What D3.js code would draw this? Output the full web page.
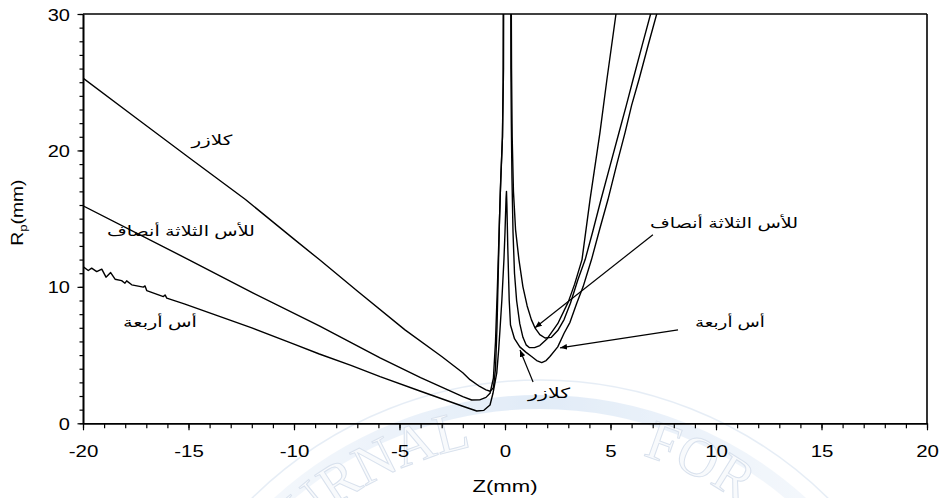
<!DOCTYPE html>
<html><head><meta charset="utf-8">
<script src="https://cdn.jsdelivr.net/npm/d3@7"></script>
<style>body{margin:0;background:#fff}svg{display:block}</style>
</head><body>
<svg id="chart" width="941" height="498"></svg>
<script>
// ---------- data ----------
const xTicks = [-20, -15, -10, -5, 0, 5, 10, 15, 20];
const yTicks = [0, 10, 20, 30];
const xMinorTicks = d3.range(-20, 21, 1);
const yMinorTicks = d3.range(0, 31, 1);
const xTitle = "Z(mm)";
const yTitleMain = "R", yTitleSub = "p", yTitleUnit = "(mm)";
const seriesNames = ["كلازر", "للأس الثلاثة أنصاف", "أس أربعة"];
const watermarkWords = ["JOURNAL", "FOR"];

// Klazar
const klazarZ = [-20,-17.5,-15,-12.3,-10,-8.8,-7,-4.74,-3,-2,-1.66,-1.2,-0.9,-0.7,-0.55,-0.45,-0.38,-0.32,-0.26,-0.2,-0.12,-0.09,-0.08,
  0.27,0.28,0.3,0.33,0.38,0.45,0.55,0.7,0.85,1.0,1.15,1.4,1.65,2.0,2.5,3.0,3.3,3.65,4.03,4.5,4.83,5.26,5.32];
const klazarR = [25.3,22.4,19.5,16.4,13.5,12.0,9.7,6.85,4.9,3.7,3.2,2.7,2.45,2.35,2.6,4,7,11,15,18,21,25,34,
  34,26,22,18,14,11,9,7.3,6.3,5.75,5.55,5.55,5.7,6.2,7.3,8.9,10.2,12,16.4,21.3,25.2,30,34];

// three-halves power
const halvesZ = [-20,-15,-12,-8.8,-5.92,-4,-3,-2,-1.58,-1.2,-0.9,-0.71,-0.55,-0.45,-0.36,-0.28,-0.22,-0.12,-0.07,-0.06,
  0.29,0.31,0.34,0.4,0.5,0.66,0.85,1.05,1.25,1.42,1.65,1.9,2.2,2.5,2.8,3.1,3.45,3.8,4.15,4.55,5.0,5.4,5.75,6.07,6.5,6.9,6.96];
const halvesR = [15.94,12.0,9.6,7.14,4.79,3.35,2.65,1.95,1.71,1.72,1.9,2.2,3.3,6,10,14,17,21,26,34,
  34,26,21,17,14.2,12,10,8.6,7.6,7.0,6.5,6.25,6.3,6.8,7.6,8.8,10.5,12,14,16.4,19,21.3,23.3,25.2,27.7,30,34];

// power four
const fourZ = [-20,-19.75,-19.59,-19.35,-19.11,-18.91,-18.69,-18.48,-18.17,-18.01,-17.93,-17.69,-17.14,-17.06,-16.98,-16.19,-16.11,-16.03,
  -15.2,-14,-12,-10,-8.8,-7.3,-5.92,-4,-3,-2,-1.34,-1.0,-0.71,-0.57,-0.39,-0.3,-0.24,-0.15,-0.05,0.0,0.05,0.07,0.09,0.13,0.2,0.26,0.45,
  0.7,1.0,1.26,1.5,1.74,1.95,2.13,2.5,2.8,3.08,3.4,3.7,4.1,4.5,4.88,5.3,5.69,6.0,6.35,6.8,7.19,7.26];
const fourR = [11.49,11.2,11.37,11.12,11.3,10.71,11.05,10.56,10.46,10.27,10.44,10.15,9.98,10.07,9.73,9.29,9.41,9.17,
  8.75,8.1,7.0,5.8,5.08,4.25,3.42,2.35,1.8,1.25,0.9,0.95,1.34,2.2,3.7,5.4,6.8,9,12,14,16.5,17,16,13,9,7.2,6.2,
  5.6,5.2,4.9,4.6,4.45,4.6,4.9,5.6,6.6,7.4,8.8,10.0,12,14.3,16.4,19,21.3,23.3,25.2,27.8,30,34];

// ---------- layout ----------
const svg = d3.select("#chart");
const W = 941, H = 498;
const x = d3.scaleLinear().domain([-20, 20]).range([83, 927]);
const y = d3.scaleLinear().domain([0, 30]).range([423.3, 14]);
const FONT = "'Liberation Sans', Arial, 'DejaVu Sans', sans-serif";

svg.append("rect").attr("width", W).attr("height", H).attr("fill", "#fff");

const defs = svg.append("defs");
defs.append("clipPath").attr("id", "plotclip")
  .append("rect").attr("x", x(-20)).attr("y", y(30)).attr("width", x(20) - x(-20)).attr("height", y(0) - y(30));
defs.append("marker").attr("id", "arrow").attr("viewBox", "0 0 10 10")
  .attr("refX", 10).attr("refY", 5).attr("markerWidth", 7).attr("markerHeight", 7)
  .attr("markerUnits", "userSpaceOnUse").attr("orient", "auto")
  .append("path").attr("d", "M0,1 L10,5 L0,9 z").attr("fill", "#000");

// ---------- faint journal watermark (background) ----------
const wcx = 540, wcy = 790;
const wm = svg.append("g").attr("opacity", 0.55);
const grad = defs.append("linearGradient").attr("id", "band").attr("x1", 0).attr("x2", 1);
grad.append("stop").attr("offset", "0%").attr("stop-color", "#d7e5f5").attr("stop-opacity", 0.2);
grad.append("stop").attr("offset", "50%").attr("stop-color", "#c9dcf2").attr("stop-opacity", 1);
grad.append("stop").attr("offset", "100%").attr("stop-color", "#d7e5f5").attr("stop-opacity", 0.2);
wm.append("circle").attr("cx", wcx).attr("cy", wcy).attr("r", 388)
  .attr("fill", "none").attr("stroke", "url(#band)").attr("stroke-width", 14);
wm.append("circle").attr("cx", wcx).attr("cy", wcy).attr("r", 410)
  .attr("fill", "none").attr("stroke", "#d3e0ef").attr("stroke-width", 1.5);
const rText = 350;
defs.append("path").attr("id", "wmarc")
  .attr("d", `M${wcx - rText},${wcy} A${rText},${rText} 0 0 1 ${wcx + rText},${wcy}`);
const startAng = [37, 107];
wm.selectAll("text.wm").data(watermarkWords).join("text").attr("class", "wm")
  .attr("font-family", "'Liberation Serif', 'DejaVu Serif', serif").attr("font-size", 56)
  .attr("fill", "#f4f7fb").attr("stroke", "#b9c9df").attr("stroke-width", 1)
  .append("textPath").attr("href", "#wmarc")
  .attr("startOffset", (d, i) => startAng[i] * Math.PI / 180 * rText)
  .text(d => d);

// ---------- curves ----------
const line = d3.line().x(d => x(d[0])).y(d => y(d[1]));
const series = [
  d3.zip(klazarZ, klazarR),
  d3.zip(halvesZ, halvesR),
  d3.zip(fourZ, fourR)
];
svg.append("g").attr("clip-path", "url(#plotclip)")
  .selectAll("path").data(series).join("path")
  .attr("d", line).attr("fill", "none").attr("stroke", "#000")
  .attr("stroke-width", 1.4).attr("stroke-linejoin", "round");

// ---------- axes ----------
function styleAxis(g) {
  g.selectAll(".domain").attr("stroke", "#000").attr("stroke-width", 1.6);
  g.selectAll(".tick line").attr("stroke", "#000").attr("stroke-width", 1.2);
}
svg.append("g").attr("transform", `translate(0,${y(0)})`)
  .call(d3.axisBottom(x).tickValues(xMinorTicks).tickSize(5).tickSizeOuter(0).tickFormat(""))
  .call(styleAxis);
const gx = svg.append("g").attr("transform", `translate(0,${y(0)})`)
  .call(d3.axisBottom(x).tickValues(xTicks).tickSize(7).tickSizeOuter(0).tickFormat(d3.format("d")))
  .call(styleAxis);
gx.selectAll(".tick text").attr("font-family", FONT).attr("font-size", 16).attr("fill", "#000")
  .attr("y", 0).attr("dy", 0)
  .attr("transform", "translate(0,34) scale(1.28,1)")
  .text(d => d < 0 ? "-" + Math.abs(d) : d);

svg.append("g").attr("transform", `translate(${x(-20)},0)`)
  .call(d3.axisLeft(y).tickValues(yMinorTicks).tickSize(3.5).tickSizeOuter(0).tickFormat(""))
  .call(styleAxis);
const gy = svg.append("g").attr("transform", `translate(${x(-20)},0)`)
  .call(d3.axisLeft(y).tickValues(yTicks).tickSize(5.5).tickSizeOuter(0).tickFormat(d3.format("d")))
  .call(styleAxis);
gy.selectAll(".tick text").attr("font-family", FONT).attr("font-size", 16).attr("fill", "#000")
  .attr("x", 0).attr("dy", 0).attr("y", 0)
  .attr("transform", "translate(-13,6) scale(1.25,1)");

// frame (top and right)
svg.append("line").attr("x1", x(-20)).attr("x2", x(20)).attr("y1", y(30)).attr("y2", y(30))
  .attr("stroke", "#000").attr("stroke-width", 1.6);
svg.append("line").attr("x1", x(20)).attr("x2", x(20)).attr("y1", y(30)).attr("y2", y(0))
  .attr("stroke", "#000").attr("stroke-width", 1.6);

// axis titles
svg.append("text").attr("font-family", FONT).attr("font-size", 16).attr("text-anchor", "middle")
  .attr("x", (x(-20) + x(20)) / 2).attr("y", 492)
  .attr("textLength", 65).attr("lengthAdjust", "spacingAndGlyphs").text(xTitle);

const yt = svg.append("text").attr("font-family", FONT).attr("font-size", 16).attr("text-anchor", "middle")
  .attr("transform", `translate(23,${(y(0) + y(30)) / 2 - 6}) rotate(-90)`)
  .attr("textLength", 66).attr("lengthAdjust", "spacingAndGlyphs");
yt.append("tspan").text(yTitleMain);
yt.append("tspan").attr("font-size", 11).attr("dy", 4).text(yTitleSub);
yt.append("tspan").attr("dy", -4).text(yTitleUnit);

// ---------- annotations (data coordinates) ----------
const labels = [
  { t: seriesNames[0], z: -13.89, r: 20.79, w: 41 },
  { t: seriesNames[1], z: -15.36, r: 14.1, w: 148 },
  { t: seriesNames[2], z: -16.35, r: 7.43, w: 74 },
  { t: seriesNames[1], z: 10.38, r: 14.7, w: 148 },
  { t: seriesNames[2], z: 10.66, r: 7.43, w: 70 },
  { t: seriesNames[0], z: 2.09, r: 2.22, w: 42 }
];
svg.append("g").selectAll("text").data(labels).join("text")
  .attr("font-family", FONT).attr("font-size", 14).attr("text-anchor", "middle")
  .attr("direction", "rtl")
  .attr("x", d => x(d.z)).attr("y", d => y(d.r) + 5)
  .attr("textLength", d => d.w).attr("lengthAdjust", "spacingAndGlyphs")
  .text(d => d.t);

const arrows = [
  { z1: 7.01, r1: 13.82, z2: 1.42, r2: 7.0 },
  { z1: 8.2, r1: 6.85, z2: 2.61, r2: 5.53 },
  { z1: 1.33, r1: 3.03, z2: 0.71, r2: 5.38 }
];
svg.append("g").selectAll("line").data(arrows).join("line")
  .attr("x1", d => x(d.z1)).attr("y1", d => y(d.r1))
  .attr("x2", d => x(d.z2)).attr("y2", d => y(d.r2))
  .attr("stroke", "#000").attr("stroke-width", 1.2)
  .attr("marker-end", "url(#arrow)");
</script>
</body></html>
